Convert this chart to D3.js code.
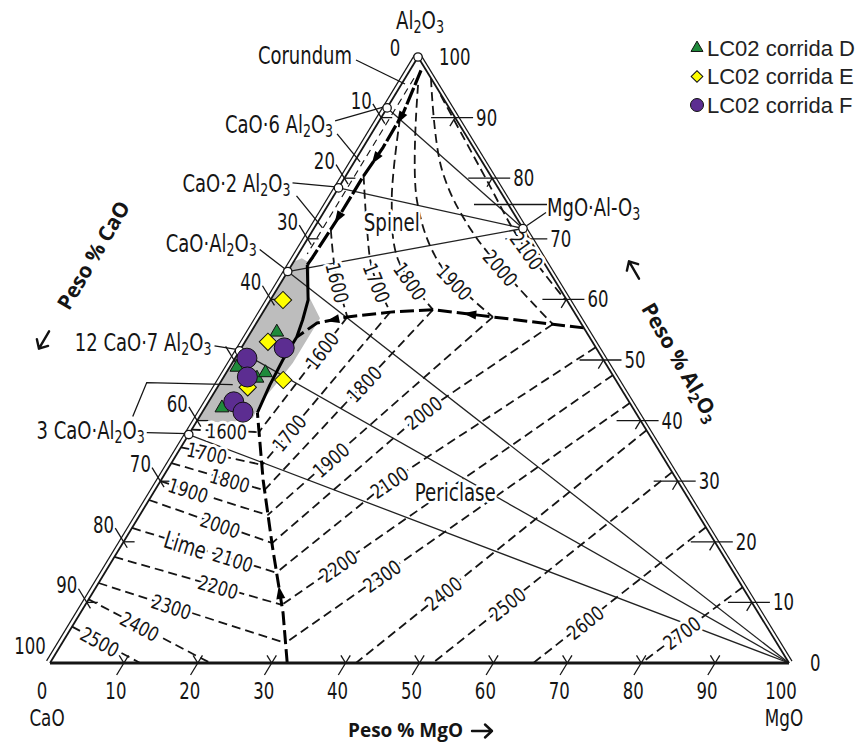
<!DOCTYPE html>
<html lang="es">
<head>
<meta charset="utf-8">
<title>Sistema CaO–MgO–Al2O3</title>
<script src="https://cdn.jsdelivr.net/npm/d3@7"></script>
<style>
  html, body { margin: 0; padding: 0; background: #fff; }
  svg { display: block; }
</style>
</head>
<body>
<svg id="chart" width="864" height="745"></svg>
<script>
// Compositions are written as [MgO wt%, Al2O3 wt%]; CaO makes up the rest.

const axisTicks = [0, 10, 20, 30, 40, 50, 60, 70, 80, 90, 100];
const leftTickText = ["0", "10", "20", "30", "40", "", "60", "70", "80", "90", "100"];

// Univariant liquidus boundaries
const boundaryLimePericlase = [[32.1, 0], [27.4, 8.3], [20.6, 19.1], [13.8, 30.2], [7.5, 41.3]];
const boundaryCentral = [[7.5, 41.3], [6.9, 45.9], [6.6, 50.0], [6.6, 53.8], [6.0, 56.6], [5.1, 59.9], [2.1, 65.7]];
const boundaryAluminate = [[2.1, 65.7], [2.2, 67.0], [2.4, 73.1], [2.4, 80.2], [2.7, 85.1], [2.6, 90.8], [1.5, 97.8]];
const boundarySpinelPericlase = [[44.7, 55.3], [40.2, 55.9], [31.5, 57.1], [22.8, 58.3], [17.2, 57.9], [11.8, 57.1], [8.2, 56.1], [6.6, 53.8]];
const aluminateStrip = [[1.2, 96.5], [1.2, 67.5]];

// Liquid field at 1600 °C (shaded)
const liquidRegion = [[0, 40.1], [0, 66.2], [0.8, 66.8], [2.3, 66.0], [5.0, 60.4], [8.2, 56.9], [8.2, 53.3],
  [8.2, 49.5], [7.7, 46.2], [7.1, 42.9], [7.3, 40.4], [4.0, 39.6]];

// Liquidus isotherms, spinel field
const spinelTemps = [1600, 1700, 1800, 1900, 2000, 2100];
const spinelCurves = [
  [[2.4, 71.5], [6.5, 64.5], [11.8, 57.1]],
  [[2.4, 80.4], [7.3, 71.5], [11.3, 64.9], [17.2, 57.9]],
  [[2.6, 89.9], [8.2, 76.4], [14.0, 66.5], [22.8, 58.3]],
  [[2.3, 95.4], [11.6, 76.4], [20.1, 65.7], [31.5, 57.1]],
  [[3.5, 96.5], [12.5, 81.4], [22.3, 70.6], [40.2, 55.9]],
  [[6.2, 93.7], [19.4, 79.7], [28.8, 69.8], [39.9, 59.9]]
];

// Liquidus isotherms, periclase field
const periclaseTemps = [1600, 1700, 1800, 1900, 2000, 2100, 2200, 2300, 2400, 2500, 2600, 2700];
const periclaseCurves = [
  [[11.8, 57.1], [9.3, 38.1]],
  [[17.2, 57.9], [12.4, 32.7]],
  [[22.8, 58.3], [14.8, 28.5]],
  [[31.5, 57.1], [17.3, 24.4]],
  [[40.2, 55.9], [29.9, 41.3], [20.2, 19.8]],
  [[47.9, 52.1], [30.9, 29.7], [23.2, 14.9]],
  [[52.5, 47.5], [26.6, 9.6]],
  [[57.1, 42.9], [30.2, 3.3]],
  [[61.6, 38.4], [41.4, 0]],
  [[68.5, 31.5], [51.8, 0]],
  [[77.6, 22.4], [65.4, 0]],
  [[87.5, 12.5], [80.0, 0]]
];

// Liquidus isotherms, lime field
const limeTemps = [1600, 1700, 1800, 1900, 2000, 2100, 2200, 2300, 2400, 2500];
const limeCurves = [
  [[0, 38.5], [9.3, 38.1]],
  [[0, 35.6], [12.4, 32.7]],
  [[0, 33.0], [14.8, 28.5]],
  [[0, 30.0], [17.3, 24.4]],
  [[0, 26.9], [20.2, 19.8]],
  [[0, 22.3], [23.2, 14.9]],
  [[0, 17.5], [26.6, 9.6]],
  [[0, 13.2], [30.2, 3.3]],
  [[0, 10.5], [21.7, 0]],
  [[0, 6.0], [12.2, 0]]
];

// Compounds
const compoundLabels = ["Corundum", "CaO·6 Al2O3", "CaO·2 Al2O3", "CaO·Al2O3", "12 CaO·7 Al2O3", "3 CaO·Al2O3", "MgO·Al-O3"];
const compoundComps = [[0, 100], [0, 91.6], [0, 78.4], [0, 64.6], [0, 51.5], [0, 37.7], [28.3, 71.7]];

// Compatibility joins
const joinLines = [
  [[0, 91.6], [28.3, 71.7]],
  [[0, 78.4], [28.3, 71.7]],
  [[0, 64.6], [28.3, 71.7]],
  [[0, 64.6], [100, 0]],
  [[0, 51.5], [100, 0]],
  [[0, 37.7], [100, 0]]
];

// Primary fields
const fieldNames = ["Spinel", "Periclase"];
const fieldComps = [[10.0, 72.8], [40.8, 28.2]];

// Measured slag compositions
const seriesNames = ["LC02 corrida D", "LC02 corrida E", "LC02 corrida F"];
const runD = [[3.5, 54.6], [1.0, 48.8], [4.6, 47.0], [5.3, 47.9], [2.3, 42.1]];
const runE = [[1.7, 59.9], [3.1, 53.0], [8.3, 46.7], [4.1, 45.5]];
const runF = [[5.8, 52.0], [1.6, 50.3], [3.2, 47.2], [3.4, 43.1], [5.5, 41.4]];

// ---------------- layout ----------------
const FONT = "'DejaVu Sans', sans-serif";
const TITLE_FONT = "'Open Sans', 'Noto Sans', sans-serif";
const INK = "#151515";

const svg = d3.select("#chart");
const corner = { CaO: [50, 663], MgO: [789, 663], Al: [418, 57] };

const yAl = d3.scaleLinear().domain([0, 100]).range([corner.CaO[1], corner.Al[1]]);
const xMg = d3.scaleLinear().domain([0, 100]).range([0, corner.MgO[0] - corner.CaO[0]]);
const xAl = d3.scaleLinear().domain([0, 100]).range([0, corner.Al[0] - corner.CaO[0]]);
const P = d => [corner.CaO[0] + xMg(d[0]) + xAl(d[1]), yAl(d[1])];

const straight = d3.line().x(d => P(d)[0]).y(d => P(d)[1]);
const smooth = d3.line().x(d => P(d)[0]).y(d => P(d)[1]).curve(d3.curveCatmullRom.alpha(0.5));

const unit = (a, b) => { const dx = b[0] - a[0], dy = b[1] - a[1], l = Math.hypot(dx, dy); return [dx / l, dy / l]; };
const dirMg = unit(corner.CaO, corner.Al);   // iso-MgO direction (up-right)
const dirCa = unit(corner.MgO, corner.Al);   // iso-CaO direction (up-left)
const add = (p, v, k) => [p[0] + v[0] * k, p[1] + v[1] * k];

const gShade = svg.append("g");
const gLines = svg.append("g");
const gBound = svg.append("g");
const gFrame = svg.append("g");
const gText = svg.append("g");
const gMarks = svg.append("g");
const gLegend = svg.append("g");

function seg(parent, a, b, w) {
  parent.append("line").attr("x1", a[0]).attr("y1", a[1]).attr("x2", b[0]).attr("y2", b[1])
    .attr("stroke", INK).attr("stroke-width", w || 1.3);
}

// digits that follow a letter are set as subscripts
function splitFormula(str) {
  const runs = [];
  let prev = "";
  for (const ch of str) {
    const sub = /\d/.test(ch) && /[A-Za-z]/.test(prev);
    if (runs.length && runs[runs.length - 1].sub === sub) runs[runs.length - 1].text += ch;
    else runs.push({ text: ch, sub });
    prev = ch;
  }
  return runs;
}

function label(parent, str, x, y, o = {}) {
  const size = o.size || 24, sx = o.sx || 0.73;
  const t = parent.append("text")
    .attr("transform", `translate(${x},${y}) rotate(${o.rot || 0}) scale(${sx},1)`)
    .attr("text-anchor", o.anchor || "middle")
    .attr("dominant-baseline", "central")
    .attr("font-family", o.family || FONT)
    .attr("font-size", size)
    .attr("font-weight", o.weight || "normal")
    .attr("fill", INK);
  if (o.halo) t.attr("stroke", "#fff").attr("stroke-width", 6).attr("stroke-linejoin", "round").attr("paint-order", "stroke");
  let shift = 0;
  splitFormula(str).forEach(r => {
    const target = r.sub ? size * 0.3 : 0;
    const ts = t.append("tspan").text(r.text);
    if (target !== shift) ts.attr("dy", target - shift);
    if (r.sub) ts.attr("font-size", size * 0.7);
    shift = target;
  });
  return t;
}

function pathLabel(node, frac, str, o) {
  const L = node.getTotalLength(), s = frac * L;
  const p = node.getPointAtLength(s);
  const p0 = node.getPointAtLength(Math.max(0, s - 3)), p1 = node.getPointAtLength(Math.min(L, s + 3));
  let ang = Math.atan2(p1.y - p0.y, p1.x - p0.x) * 180 / Math.PI;
  if (ang > 90) ang -= 180;
  if (ang <= -90) ang += 180;
  label(gText, str, p.x, p.y, Object.assign({ rot: ang, halo: true }, o));
}

function arrowHead(node, frac, reverse) {
  const L = node.getTotalLength(), s = frac * L;
  const p = node.getPointAtLength(s), q = node.getPointAtLength(Math.min(L, s + 1));
  let ang = Math.atan2(q.y - p.y, q.x - p.x) * 180 / Math.PI;
  if (reverse) ang += 180;
  gBound.append("path").attr("d", "M7,0 L-6,-4.5 L-6,4.5 Z")
    .attr("transform", `translate(${p.x},${p.y}) rotate(${ang})`).attr("fill", "#000");
}

// open arrow used beside the axis titles (points toward -x before rotation)
function titleArrow(x, y, rot) {
  gText.append("path")
    .attr("d", "M10,0 L-10,0 M-3,-6.5 L-10,0 L-3,6.5")
    .attr("transform", `translate(${x},${y}) rotate(${rot})`)
    .attr("fill", "none").attr("stroke", "#111").attr("stroke-width", 2.4)
    .attr("stroke-linecap", "round").attr("stroke-linejoin", "round");
}

// ---- shaded liquid region ----
gShade.append("path").attr("d", straight(liquidRegion) + "Z").attr("fill", "#bdbdbd");

// ---- joins ----
gLines.append("g").selectAll("path").data(joinLines).join("path")
  .attr("d", straight).attr("fill", "none").attr("stroke", "#222").attr("stroke-width", 1.3);

// ---- isotherms ----
function drawIsotherms(curves, gen) {
  return gLines.append("g").selectAll("path").data(curves).join("path")
    .attr("d", gen).attr("fill", "none").attr("stroke", INK)
    .attr("stroke-width", 1.8).attr("stroke-dasharray", "9,5");
}
const spinelPaths = drawIsotherms(spinelCurves, smooth).nodes();
const periclasePaths = drawIsotherms(periclaseCurves, straight).nodes();
const limePaths = drawIsotherms(limeCurves, straight).nodes();
gLines.append("path").attr("d", straight(aluminateStrip)).attr("fill", "none")
  .attr("stroke", INK).attr("stroke-width", 1.2).attr("stroke-dasharray", "7,5");

// ---- boundaries ----
function boundary(pts, dash, w) {
  const p = gBound.append("path").attr("d", straight(pts)).attr("fill", "none")
    .attr("stroke", "#000").attr("stroke-width", w).attr("stroke-linejoin", "round");
  if (dash) p.attr("stroke-dasharray", dash);
  return p.node();
}
const bLP = boundary(boundaryLimePericlase, "14,5", 3);
const bSP = boundary(boundarySpinelPericlase, "14,5", 3);
const bC = boundary(boundaryCentral, null, 3);
const bA = boundary(boundaryAluminate, "18,3", 3.2);
arrowHead(bLP, 0.28, false);
arrowHead(bSP, 0.39, false);
arrowHead(bSP, 0.86, false);
arrowHead(bA, 0.25, true);
arrowHead(bA, 0.56, true);
arrowHead(bA, 0.77, true);

// ---- triangle frame ----
seg(gFrame, corner.CaO, corner.MgO, 2.8);
seg(gFrame, corner.CaO, corner.Al, 1.8);
seg(gFrame, corner.MgO, corner.Al, 1.8);
const nLeft = [dirMg[1], -dirMg[0]];      // outward normal of CaO–Al2O3 side
const nRight = [-dirCa[1], dirCa[0]];     // outward normal of MgO–Al2O3 side
seg(gFrame, add(corner.CaO, nLeft, 4), add(corner.Al, nLeft, 4), 1.2);
seg(gFrame, add(corner.MgO, nRight, 3.5), add(corner.Al, nRight, 3.5), 1.2);

// ---- ticks and tick labels ----
axisTicks.forEach((v, i) => {
  // MgO (bottom)
  const pb = P([v, 0]);
  if (v > 0 && v < 100) {
    seg(gFrame, pb, add(pb, dirMg, -14));
    seg(gFrame, pb, add(pb, dirMg, 9));
    seg(gFrame, pb, add(pb, dirCa, 9));
  }
  label(gText, String(v), pb[0] - 8, pb[1] + 28, { size: 23, sx: 0.72 });

  // Al2O3 (right)
  const pr = P([100 - v, v]);
  if (v > 0 && v < 100) {
    seg(gFrame, [pr[0] - 24, pr[1]], [pr[0] + 18, pr[1]]);
    seg(gFrame, pr, add(pr, dirMg, -10));
  }
  label(gText, String(v), pr[0] + 21, pr[1], { size: 23, sx: 0.72, anchor: "start" });

  // CaO (left)
  const pl = P([0, 100 - v]);
  if (v > 0 && v < 100) {
    seg(gFrame, add(pl, dirCa, 16), add(pl, dirCa, -7));
    seg(gFrame, pl, [pl[0] + 11, pl[1]]);
  }
  const leftDx = v === 0 ? -23 : -20;
  const leftDy = v === 0 ? -9 : -17;
  if (leftTickText[i]) label(gText, leftTickText[i], pl[0] + leftDx, pl[1] + leftDy, { size: 23, sx: 0.72 });
});

// corner names
label(gText, "Al2O3", corner.Al[0] + 2, corner.Al[1] - 37, { size: 25 });
label(gText, "CaO", corner.CaO[0] - 3, corner.CaO[1] + 55, { size: 23 });
label(gText, "MgO", corner.MgO[0] - 5, corner.MgO[1] + 55, { size: 23 });

// ---- compound labels with leaders ----
const compoundLabelOffset = [[-66, -2], [-54, 16], [-48, -5], [-31, -29], [-28, -9], [-44, -5], [24, -22]];
const compoundLeaders = [
  [[[-62, 3], [-13, 27]]],
  [[[-52, 13], [-3, -1]], [[-50, 26], [-27, 54]]],
  [[[-46, -5], [-3, -1]], [[-42, 8], [-16, 40]]],
  [[[-28, -22], [-2, -2]]],
  [[[-25, -5], [0, -1]]],
  [[[-42, -2], [-1, -1]], [[-56, -18], [-42, -52], [44, -50]]],
  [[[23, -16], [4, -3]], [[-49, -24], [24, -24]]]
];
compoundComps.forEach((c, i) => {
  const p = P(c);
  compoundLeaders[i].forEach(pl => {
    gFrame.append("path")
      .attr("d", d3.line()(pl.map(o => [p[0] + o[0], p[1] + o[1]])))
      .attr("fill", "none").attr("stroke", INK).attr("stroke-width", 1.3);
  });
  const off = compoundLabelOffset[i];
  label(gText, compoundLabels[i], p[0] + off[0], p[1] + off[1],
    { size: 25, sx: 0.72, anchor: i === 6 ? "start" : "end" });
});

// ---- isotherm labels ----
const spinelLabelAt = [0.6, 0.77, 0.82, 0.8, 0.73, 0.74];
const periclaseLabelAt = [0.29, 0.79, 0.41, 0.72, 0.44, 0.63, 0.83, 0.72, 0.70, 0.69, 0.70, 0.6];
const limeLabelAt = [0.52, 0.32, 0.63, 0.26, 0.58, 0.70, 0.62, 0.39, 0.42, 0.41];
spinelPaths.forEach((n, i) => pathLabel(n, spinelLabelAt[i], String(spinelTemps[i]), { size: 20, sx: 0.8 }));
periclasePaths.forEach((n, i) => pathLabel(n, periclaseLabelAt[i], String(periclaseTemps[i]), { size: 20, sx: 0.8 }));
limePaths.forEach((n, i) => pathLabel(n, limeLabelAt[i], String(limeTemps[i]), { size: 20, sx: 0.8 }));
pathLabel(limePaths[5], 0.37, "Lime", { size: 24, sx: 0.74 });

// field names
fieldComps.forEach((c, i) => {
  const p = P(c);
  label(gText, fieldNames[i], p[0], p[1], { size: 24, sx: 0.76, halo: true });
});

// ---- compound points ----
gMarks.selectAll("circle.cmp").data(compoundComps).join("circle")
  .attr("class", "cmp")
  .attr("cx", d => P(d)[0]).attr("cy", d => P(d)[1]).attr("r", 4.2)
  .attr("fill", "#fff").attr("stroke", INK).attr("stroke-width", 1.3);

// ---- measured compositions ----
const seriesColors = ["#1f8a3b", "#ffff00", "#5c2d91"];
const seriesSymbols = [
  d3.symbol().type(d3.symbolTriangle).size(82),
  d3.symbol().type(d3.symbolSquare).size(150),
  d3.symbol().type(d3.symbolCircle).size(Math.PI * 10 * 10)
];
const seriesRot = [0, 45, 0];
[runD, runE, runF].forEach((run, k) => {
  gMarks.append("g").selectAll("path").data(run).join("path")
    .attr("d", seriesSymbols[k]())
    .attr("transform", d => `translate(${P(d)[0]},${P(d)[1]}) rotate(${seriesRot[k]})`)
    .attr("fill", seriesColors[k]).attr("stroke", "#111").attr("stroke-width", 1);
});

// ---- axis titles ----
label(gText, "Peso % MgO", 348, 730, { family: TITLE_FONT, weight: 700, size: 19, sx: 1, anchor: "start" });
titleArrow(482, 731, 180);
label(gText, "Peso % CaO", 93, 255, { family: TITLE_FONT, weight: 700, size: 21, sx: 1, rot: -59.5 });
titleArrow(44, 340, -59.5);
label(gText, "Peso % Al2O3", 681, 362, { family: TITLE_FONT, weight: 700, size: 21, sx: 1, rot: 60 });
titleArrow(634, 270, 60);

// ---- legend ----
const legendSymbols = [
  d3.symbol().type(d3.symbolTriangle).size(62),
  d3.symbol().type(d3.symbolSquare).size(68),
  d3.symbol().type(d3.symbolCircle).size(Math.PI * 6.5 * 6.5)
];
seriesNames.forEach((name, k) => {
  const y = 48 + k * 28.5;
  gLegend.append("path").attr("d", legendSymbols[k]())
    .attr("transform", `translate(697,${y}) rotate(${seriesRot[k]})`)
    .attr("fill", seriesColors[k]).attr("stroke", "#111").attr("stroke-width", 1);
  gLegend.append("text").attr("x", 707).attr("y", y).attr("dominant-baseline", "central")
    .attr("font-family", "'Liberation Sans', Arial, sans-serif").attr("font-size", 22)
    .attr("fill", "#222").text(name);
});
</script>
</body>
</html>
